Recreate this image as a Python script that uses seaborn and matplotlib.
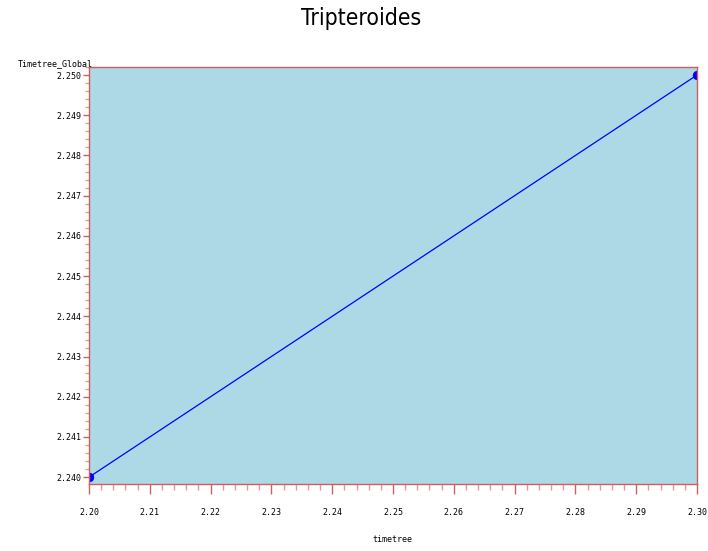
import matplotlib
matplotlib.use("Agg")
import matplotlib.pyplot as plt
import seaborn as sns
import pandas as pd
from matplotlib.ticker import MultipleLocator, FormatStrFormatter

x_vals = [2.20, 2.30]
y_vals = [2.240, 2.250]
title = "Tripteroides"
xlabel = "timetree"
ylabel = "Timetree_Global"

df = pd.DataFrame({"x": x_vals, "y": y_vals})

sns.set_style("white")
plt.rcParams["text.color"] = "black"
plt.rcParams["xtick.color"] = "black"
plt.rcParams["ytick.color"] = "black"
fig = plt.figure(figsize=(7.08, 5.51), dpi=100)
ax = fig.add_axes([89/708, 1-484/551, (697-89)/708, (484-67)/551])
ax.set_facecolor("#add8e6")

sns.lineplot(data=df, x="x", y="y", ax=ax, color="#0000ff", linewidth=0.9,
             marker="o", markersize=6, markeredgecolor="#0000ff")

ax.set_xlim(2.20, 2.3)
ax.set_ylim(2.23983, 2.2502)
ax.xaxis.set_major_locator(MultipleLocator(0.01))
ax.xaxis.set_minor_locator(MultipleLocator(0.002))
ax.yaxis.set_major_locator(MultipleLocator(0.001))
ax.yaxis.set_minor_locator(MultipleLocator(0.0002))
ax.xaxis.set_major_formatter(FormatStrFormatter("%.2f"))
ax.yaxis.set_major_formatter(FormatStrFormatter("%.3f"))

sc = "#cc5f5f"
for s in ax.spines.values():
    s.set_color(sc)
    s.set_linewidth(1.0)
ax.tick_params(axis="both", which="both", bottom=True, left=True, top=False, right=False)
ax.tick_params(axis="both", which="major", direction="out", width=1,
               color=sc, labelcolor="black", labelsize=6)
ax.tick_params(axis="both", which="minor", direction="out", width=1,
               color="#e49a9a")
ax.tick_params(axis="x", which="major", length=7, pad=10)
ax.tick_params(axis="x", which="minor", length=4)
ax.tick_params(axis="y", which="major", length=4, pad=1.5)
ax.tick_params(axis="y", which="minor", length=3)
for lab in ax.get_xticklabels() + ax.get_yticklabels():
    lab.set_family("DejaVu Sans Mono")

ax.set_xlabel("")
ax.set_ylabel("")
fig.text(392/708, 1-540/551, xlabel, ha="center", va="center",
         fontsize=6, family="DejaVu Sans Mono", color="black")
fig.text(18/708, 1-64/551, ylabel, ha="left", va="center",
         fontsize=6, family="DejaVu Sans Mono", color="black")
fig.text(361/708, 1-19/551, title, ha="center", va="center",
         fontsize=16.5, family=["DejaVu Sans"], stretch="condensed", color="black")

fig.savefig("out.png", dpi=100)
